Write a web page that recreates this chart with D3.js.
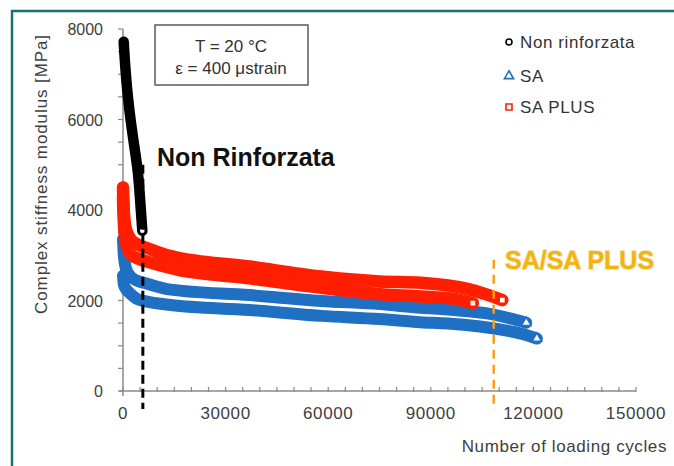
<!DOCTYPE html>
<html lang="it">
<head>
<meta charset="UTF-8">
<title>Complex stiffness modulus</title>
<script src="https://cdn.jsdelivr.net/npm/d3@7"></script>
<style>
  body { margin: 0; background: #fff; }
  svg text { font-family: "Liberation Sans", Arial, sans-serif; }
</style>
</head>
<body>
<div id="chart"></div>
<script>
// cycles, modulus [MPa]
var nonRinforzata = [[200,7720],[700,7100],[1400,6500],[2200,5990],[3300,5400],[4370,4880],[4950,4290],[5400,3800],[5650,3540]];
var sa1 = [[0,3350],[250,3000],[900,2700],[2000,2550],[4000,2440],[6700,2380],[14000,2240],[37000,2120],[58000,1990],[75000,1920],[87000,1840],[95000,1800],[106000,1720],[114000,1590],[117900,1510]];
var sa2 = [[0,2550],[250,2350],[900,2250],[2000,2160],[4000,2040],[6700,1980],[14000,1900],[37000,1790],[58000,1660],[75000,1590],[87000,1520],[95000,1490],[111000,1350],[116800,1260],[121000,1160]];
var saPlus1 = [[0,4500],[250,3950],[800,3600],[2000,3380],[4000,3250],[7000,3160],[14000,2980],[37000,2750],[58000,2530],[75000,2420],[87000,2390],[101000,2250],[106000,2140],[110900,2010]];
var saPlus2 = [[0,4300],[250,3700],[900,3250],[2500,3000],[5000,2910],[8000,2840],[16000,2680],[37000,2490],[58000,2280],[75000,2140],[87000,2090],[96500,2040],[102300,1940]];

var xTickLabels = [0, 30000, 60000, 90000, 120000, 150000];
var yTickLabels = [0, 2000, 4000, 6000, 8000];
var xMinorStep = 5000, yMinorStep = 500;

var legendNames = ["Non rinforzata", "SA", "SA PLUS"];
// vertical dashed markers: cycles, from, to
var refLines = [[5800, 5000, -400], [108400, 2900, -420]];

var W = 674, H = 466;
var svg = d3.select("#chart").append("svg")
    .attr("width", W).attr("height", H);

// teal frame
svg.append("path")
    .attr("d", "M12," + H + "V11H" + W)
    .attr("fill", "none")
    .attr("stroke", "#1d6f72")
    .attr("stroke-width", 2.5);

var x = d3.scaleLinear().domain([0, 150000]).range([123, 636]);
var y = d3.scaleLinear().domain([0, 8000]).range([391, 29]);

// axes
var axisColor = "#8a8a8a";
svg.append("line").attr("x1", x(0)).attr("x2", x(0))
    .attr("y1", y(8000)).attr("y2", y(0) + 5)
    .attr("stroke", axisColor).attr("stroke-width", 1.5);
svg.append("line").attr("x1", x(0) - 4).attr("x2", x(150000))
    .attr("y1", y(0)).attr("y2", y(0))
    .attr("stroke", axisColor).attr("stroke-width", 1.5);

svg.selectAll(".ytick").data(d3.range(0, 8001, yMinorStep)).enter()
    .append("line").attr("class", "ytick")
    .attr("x1", x(0) - 5).attr("x2", x(0))
    .attr("y1", function(d){ return y(d); }).attr("y2", function(d){ return y(d); })
    .attr("stroke", axisColor).attr("stroke-width", 1.2);

svg.selectAll(".xtick").data(d3.range(0, 150001, xMinorStep)).enter()
    .append("line").attr("class", "xtick")
    .attr("x1", function(d){ return x(d); }).attr("x2", function(d){ return x(d); })
    .attr("y1", y(0) - 4).attr("y2", y(0) + 1)
    .attr("stroke", axisColor).attr("stroke-width", 1.2);

svg.selectAll(".ylab").data(yTickLabels).enter()
    .append("text").attr("class", "ylab")
    .attr("x", 103).attr("y", function(d){ return y(d) + 6; })
    .attr("text-anchor", "end")
    .style("font-size", "16px").style("fill", "#404040")
    .text(function(d){ return d; });

svg.selectAll(".xlab").data(xTickLabels).enter()
    .append("text").attr("class", "xlab")
    .attr("x", function(d){ return x(d); }).attr("y", 419)
    .attr("text-anchor", "middle")
    .style("font-size", "17px").style("letter-spacing", "0.6px").style("fill", "#404040")
    .text(function(d){ return d; });

svg.append("text")
    .attr("x", 667).attr("y", 452)
    .attr("text-anchor", "end")
    .style("font-size", "17px").style("letter-spacing", "0.6px").style("fill", "#404040")
    .text("Number of loading cycles");

svg.append("text")
    .attr("transform", "translate(47,174) rotate(-90)")
    .attr("text-anchor", "middle")
    .style("font-size", "17px").style("letter-spacing", "0.9px").style("fill", "#404040")
    .text("Complex stiffness modulus [MPa]");

// data bands (dense markers in the original, drawn as thick strokes)
var line = d3.line()
    .x(function(d){ return x(d[0]); })
    .y(function(d){ return y(d[1]); })
    .curve(d3.curveMonotoneX);
var straightLine = d3.line()
    .x(function(d){ return x(d[0]); })
    .y(function(d){ return y(d[1]); })
    .curve(d3.curveBasis);

var blue = "#1f6fc2", red = "#ff1f00";
var bands = [
    {data: sa1, color: blue, w: 12, sym: d3.symbolTriangle, gen: line},
    {data: sa2, color: blue, w: 12, sym: d3.symbolTriangle, gen: line},
    {data: saPlus1, color: red, w: 12.5, sym: d3.symbolSquare, gen: line},
    {data: saPlus2, color: red, w: 12.5, sym: d3.symbolSquare, gen: line},
    {data: nonRinforzata, color: "#000", w: 10.5, sym: d3.symbolCircle, gen: straightLine}
];

bands.forEach(function(b){
    svg.append("path")
        .datum(b.data)
        .attr("d", b.gen)
        .attr("fill", "none")
        .attr("stroke", b.color)
        .attr("stroke-width", b.w)
        .attr("stroke-linecap", "round")
        .attr("stroke-linejoin", "round");
    var last = b.data[b.data.length - 1];
    svg.append("path")
        .attr("d", d3.symbol().type(b.sym).size(b.sym === d3.symbolCircle ? 30 : 40)())
        .attr("transform", "translate(" + x(last[0]) + "," + y(last[1]) + ")")
        .attr("fill", "#fff")
        .attr("stroke", b.color)
        .attr("stroke-width", 1.6);
});

// dashed reference lines
var refStyle = [{color: "#000", w: 3, dash: "9,5"}, {color: "#f5a01e", w: 2.5, dash: "9,6"}];
svg.selectAll(".ref").data(refLines).enter()
    .append("line").attr("class", "ref")
    .attr("x1", function(d){ return x(d[0]); }).attr("x2", function(d){ return x(d[0]); })
    .attr("y1", function(d){ return y(d[1]); }).attr("y2", function(d){ return y(d[2]); })
    .attr("stroke", function(d, i){ return refStyle[i].color; })
    .attr("stroke-width", function(d, i){ return refStyle[i].w; })
    .attr("stroke-dasharray", function(d, i){ return refStyle[i].dash; });

// annotations
svg.append("text")
    .attr("x", 157).attr("y", 166)
    .style("font-size", "25px").style("font-weight", "bold").style("fill", "#111")
    .text("Non Rinforzata");

svg.append("text")
    .attr("x", 505).attr("y", 269)
    .style("font-size", "25px").style("font-weight", "bold").style("fill", "#f2b40d")
    .style("paint-order", "stroke").style("stroke", "rgba(200,150,0,0.25)").style("stroke-width", 2)
    .text("SA/SA PLUS");

// condition box
svg.append("rect")
    .attr("x", 155).attr("y", 25).attr("width", 153).attr("height", 60)
    .attr("fill", "#fff").attr("stroke", "#5a5a5a").attr("stroke-width", 1.5);
svg.append("text")
    .attr("x", 231).attr("y", 52).attr("text-anchor", "middle")
    .style("font-size", "17px").style("fill", "#333")
    .text("T = 20 °C");
svg.append("text")
    .attr("x", 231).attr("y", 74).attr("text-anchor", "middle")
    .style("font-size", "17px").style("fill", "#333")
    .text("ε = 400 μstrain");

// legend
var legendColors = ["#000", blue, red];
var legendSyms = [d3.symbolCircle, d3.symbolTriangle, d3.symbolSquare];
var legendY = [42, 76, 107];
var legend = svg.append("g").attr("class", "legend");
legend.selectAll("path").data(legendNames).enter()
    .append("path")
    .attr("d", function(d, i){ return d3.symbol().type(legendSyms[i]).size(i === 0 ? 28 : 36)(); })
    .attr("transform", function(d, i){ return "translate(509," + legendY[i] + ")"; })
    .attr("fill", "#fff")
    .attr("stroke", function(d, i){ return legendColors[i]; })
    .attr("stroke-width", 1.6);
legend.selectAll("text").data(legendNames).enter()
    .append("text")
    .attr("x", 520).attr("y", function(d, i){ return legendY[i] + 6; })
    .style("font-size", "17px").style("letter-spacing", "0.6px").style("fill", "#333")
    .text(function(d){ return d; });
</script>
</body>
</html>
